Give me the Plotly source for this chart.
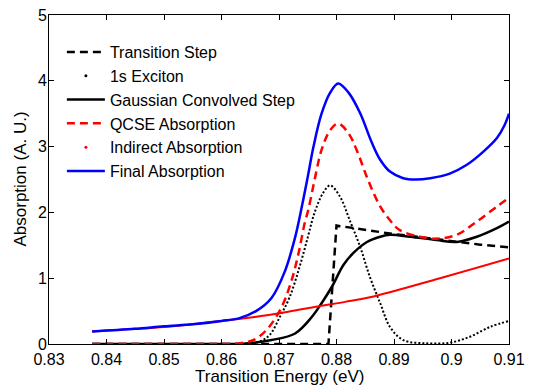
import plotly.graph_objects as go

# ---- data ----
step_x = [0.8375, 0.8786, 0.8800, 0.8850, 0.8900, 0.8950, 0.9000, 0.9050, 0.9100]
step_y = [0.0, 0.0, 1.80, 1.73, 1.67, 1.62, 1.56, 1.51, 1.47]

exc_x = [0.8375, 0.850, 0.860, 0.864, 0.8667, 0.8684, 0.8702, 0.8718, 0.8735, 0.8750, 0.8762,
         0.8777, 0.8789, 0.8806, 0.8823, 0.8841, 0.8858, 0.8876, 0.8893, 0.8916, 0.8957,
         0.8997, 0.9032, 0.9067, 0.9100]
exc_y = [0.0, 0.0, 0.0, 0.005, 0.04, 0.14, 0.42, 0.70, 1.15, 1.62, 2.00,
         2.30, 2.41, 2.24, 1.88, 1.48, 1.02, 0.62, 0.26, 0.06, 0.01,
         0.02, 0.11, 0.26, 0.35]

conv_x = [0.8375, 0.850, 0.860, 0.864, 0.8687, 0.8728, 0.8757, 0.8774, 0.8792, 0.8812, 0.8829,
          0.8853, 0.8876, 0.8893, 0.8928, 0.8974, 0.9009, 0.9044, 0.9079, 0.9100]
conv_y = [0.0, 0.0, 0.0, 0.005, 0.06, 0.16, 0.41, 0.62, 0.87, 1.20, 1.38,
          1.55, 1.63, 1.66, 1.63, 1.58, 1.55, 1.63, 1.76, 1.86]

qcse_x = [0.8375, 0.850, 0.860, 0.8632, 0.8658, 0.8681, 0.8705, 0.8722, 0.8734, 0.8745, 0.8751,
          0.8763, 0.8774, 0.8789, 0.8803, 0.8821, 0.8835, 0.8855, 0.8876, 0.8893, 0.8910,
          0.8945, 0.8974, 0.9009, 0.9044, 0.9079, 0.9100]
qcse_y = [0.0, 0.0, 0.0, 0.01, 0.07, 0.24, 0.57, 0.97, 1.38, 1.85, 2.04,
          2.54, 2.95, 3.25, 3.35, 3.20, 2.95, 2.49, 2.09, 1.88, 1.73,
          1.63, 1.60, 1.66, 1.86, 2.09, 2.22]

ind_x = [0.8375, 0.845, 0.850, 0.855, 0.860, 0.8658, 0.8716, 0.8774, 0.8815, 0.8858, 0.8980, 0.9100]
ind_y = [0.19, 0.23, 0.26, 0.30, 0.35, 0.41, 0.49, 0.58, 0.64, 0.71, 1.00, 1.30]

fin_x = [0.8375, 0.845, 0.850, 0.855, 0.860, 0.863, 0.866, 0.8687, 0.8710, 0.8728, 0.8740,
         0.8750, 0.8760, 0.8774, 0.8789, 0.8803, 0.8821, 0.8841, 0.8861, 0.8876, 0.8893,
         0.8916, 0.8937, 0.8963, 0.8997, 0.9026, 0.9055, 0.9079, 0.9092, 0.9100]
fin_y = [0.19, 0.23, 0.27, 0.30, 0.35, 0.39, 0.50, 0.70, 1.10, 1.62, 2.10,
         2.54, 3.00, 3.50, 3.82, 3.96, 3.82, 3.51, 3.07, 2.80, 2.62,
         2.52, 2.50, 2.52, 2.59, 2.72, 2.92, 3.13, 3.32, 3.50]

x_ticks = [0.83, 0.84, 0.85, 0.86, 0.87, 0.88, 0.89, 0.90, 0.91]
x_tick_text = ["0.83", "0.84", "0.85", "0.86", "0.87", "0.88", "0.89", "0.9", "0.91"]
y_ticks = [0, 1, 2, 3, 4, 5]

x_title = "Transition Energy (eV)"
y_title = "Absorption (A. U.)"
names = ["Transition Step", "1s Exciton", "Gaussian Convolved Step",
         "QCSE Absorption", "Indirect Absorption", "Final Absorption"]

fig = go.Figure()
fig.add_trace(go.Scatter(x=step_x, y=step_y, mode="lines", name=names[0],
                         line=dict(color="black", width=2.5, dash="8px,5px")))
fig.add_trace(go.Scatter(x=exc_x, y=exc_y, mode="lines", showlegend=False,
                         line=dict(color="black", width=2, dash="2px,2px", shape="spline")))
fig.add_trace(go.Scatter(x=[None], y=[None], mode="markers", name=names[1],
                         marker=dict(color="black", size=3)))
fig.add_trace(go.Scatter(x=conv_x, y=conv_y, mode="lines", name=names[2],
                         line=dict(color="black", width=2.5, shape="spline")))
fig.add_trace(go.Scatter(x=qcse_x, y=qcse_y, mode="lines", name=names[3],
                         line=dict(color="red", width=2.5, dash="8px,5px", shape="spline")))
fig.add_trace(go.Scatter(x=ind_x, y=ind_y, mode="lines", showlegend=False,
                         line=dict(color="red", width=2, shape="spline")))
fig.add_trace(go.Scatter(x=[None], y=[None], mode="markers", name=names[4],
                         marker=dict(color="red", size=3)))
fig.add_trace(go.Scatter(x=fin_x, y=fin_y, mode="lines", name=names[5],
                         line=dict(color="blue", width=2.5, shape="spline")))

axis_common = dict(showline=True, linecolor="black", linewidth=1, mirror="ticks",
                   ticks="inside", ticklen=5, tickcolor="black", showgrid=False,
                   zeroline=False, tickfont=dict(size=16), ticklabeloverflow="allow")
fig.update_xaxes(range=[0.83, 0.91], tickvals=x_ticks, ticktext=x_tick_text,
                 ticklabelstandoff=1, **axis_common)
fig.update_yaxes(range=[0, 5], tickvals=y_ticks, ticklabelstandoff=-2, **axis_common)

# axis titles as annotations for exact placement
fig.add_annotation(text=x_title, xref="paper", yref="paper", x=0.5, y=-0.098,
                   xanchor="center", yanchor="middle", showarrow=False,
                   font=dict(size=17))
fig.add_annotation(text=y_title, xref="paper", yref="paper", x=-0.063, y=0.5,
                   xanchor="center", yanchor="middle", textangle=-90, showarrow=False,
                   font=dict(size=17))

# the page body adds an 8px offset, so the figure is sized to fill the rest of the window
fig.update_layout(
    width=525, height=377,
    margin=dict(l=41, r=24, t=7, b=41, autoexpand=False),
    paper_bgcolor="white", plot_bgcolor="white",
    font=dict(family="Liberation Sans, Arial, sans-serif", size=17, color="black"),
    legend=dict(x=0.028, y=0.939, xanchor="left", yanchor="top",
                bgcolor="rgba(0,0,0,0)", borderwidth=0, itemwidth=38,
                font=dict(size=16), tracegroupgap=0),
)

fig.write_html("out.html")
